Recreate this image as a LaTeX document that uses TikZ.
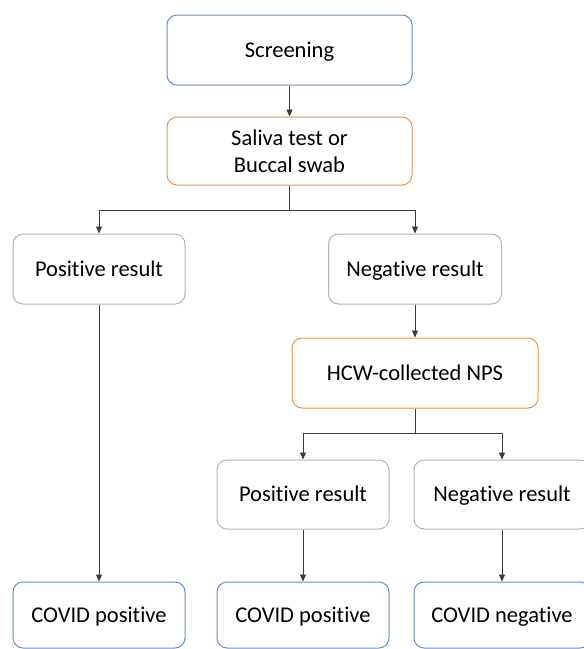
\documentclass[tikz,border=0pt]{standalone}
\usepackage{fontspec}
\setmainfont[Ligatures={NoCommon}]{Carlito}
\usetikzlibrary{arrows.meta}
\definecolor{bblue}{RGB}{100,140,215}
\definecolor{borange}{RGB}{237,145,75}
\definecolor{bgray}{RGB}{180,180,180}
\definecolor{lin}{RGB}{60,60,60}
\begin{document}
\begin{tikzpicture}[x=1pt,y=-1pt,
  stepbox/.style={rounded corners=10pt, line width=1pt, inner sep=0pt, align=center,
    font=\fontsize{22.5}{27}\selectfont, fill=white},
  oneline/.style={text height=19pt, text depth=4.5pt},
  blubox/.style={stepbox, draw=bblue},
  orbox/.style={stepbox, draw=borange},
  grbox/.style={stepbox, draw=bgray},
  arr/.style={draw=lin, line width=0.9pt, -{Triangle[length=7pt,width=6pt]}}]
\useasboundingbox (0,0) rectangle (584,649);
\node[blubox, oneline, minimum width=245pt, minimum height=70pt] (scr) at (289.5,50) {Screening};
\node[orbox, minimum width=245pt, minimum height=68pt] (sal) at (289.5,151) {Saliva test or\\Buccal swab};
\node[grbox, oneline, minimum width=172pt, minimum height=70pt] (pos1) at (99,269) {Positive result};
\node[grbox, oneline, minimum width=173pt, minimum height=70pt] (neg1) at (415,269) {Negative result};
\node[orbox, oneline, minimum width=246pt, minimum height=70pt] (hcw) at (415,373) {HCW-collected NPS};
\node[grbox, oneline, minimum width=172pt, minimum height=69pt] (pos2) at (303,494.5) {Positive result};
\node[grbox, oneline, minimum width=176pt, minimum height=69pt] (neg2) at (502,494.5) {Negative result};
\node[blubox, oneline, minimum width=172pt, minimum height=66pt] (cp1) at (99,615) {COVID positive};
\node[blubox, oneline, minimum width=172pt, minimum height=66pt] (cp2) at (303,615) {COVID positive};
\node[blubox, oneline, minimum width=176pt, minimum height=66pt] (cn) at (502,615) {COVID negative};
\draw[arr] (scr) -- (sal);
\draw[arr] (sal.south) -- ++(0,25) -| (pos1.north);
\draw[arr] (sal.south) -- ++(0,25) -| (neg1.north);
\draw[arr] (neg1) -- (hcw);
\draw[arr] (hcw.south) -- ++(0,25) -| (pos2.north);
\draw[arr] (hcw.south) -- ++(0,25) -| (neg2.north);
\draw[arr] (pos1) -- (cp1);
\draw[arr] (pos2) -- (cp2);
\draw[arr] (neg2) -- (cn);
\end{tikzpicture}
\end{document}
